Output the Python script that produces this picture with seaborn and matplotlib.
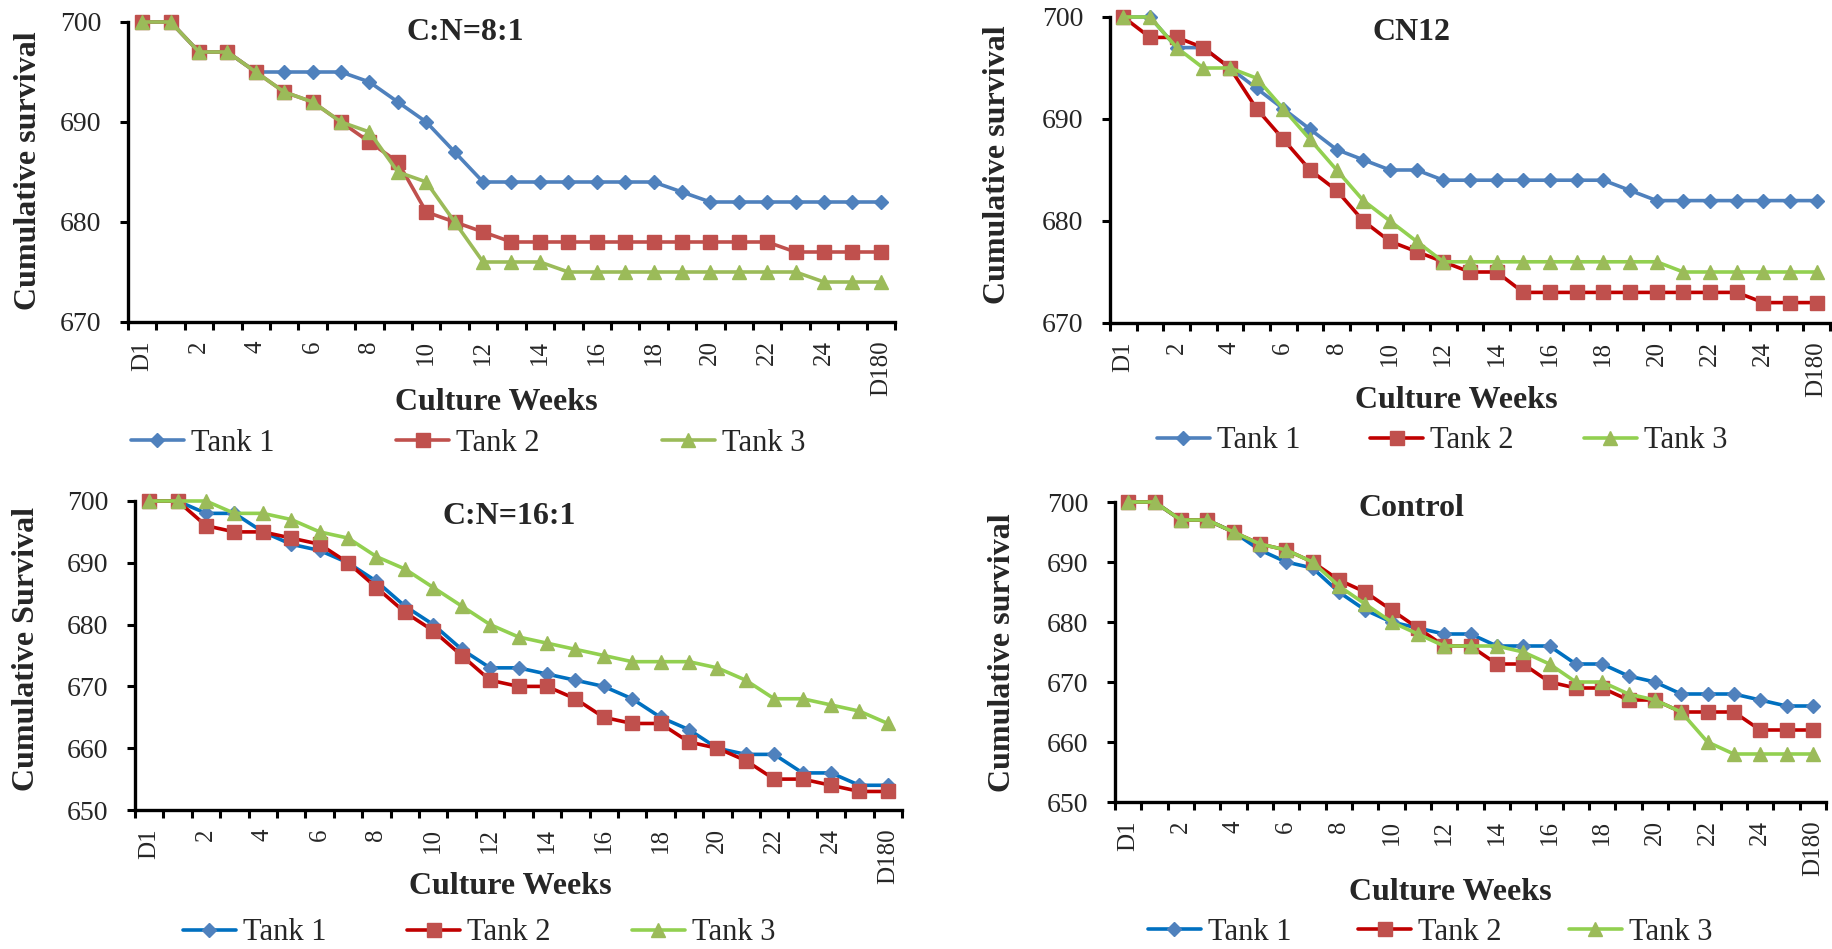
import matplotlib
matplotlib.use("Agg")
import matplotlib.pyplot as plt
from matplotlib.lines import Line2D
import seaborn as sns
import pandas as pd

# Sampling points: start day, culture weeks 1-25, final day
weeks = ["D1", "1", "2", "3", "4", "5", "6", "7", "8", "9", "10", "11", "12", "13",
         "14", "15", "16", "17", "18", "19", "20", "21", "22", "23", "24", "25", "D180"]
shown_labels = ["D1", "2", "4", "6", "8", "10", "12", "14", "16", "18", "20", "22", "24", "D180"]

cn8_tank1 = [700, 700, 697, 697, 695, 695, 695, 695, 694, 692, 690, 687, 684, 684,
             684, 684, 684, 684, 684, 683, 682, 682, 682, 682, 682, 682, 682]
cn8_tank2 = [700, 700, 697, 697, 695, 693, 692, 690, 688, 686, 681, 680, 679, 678,
             678, 678, 678, 678, 678, 678, 678, 678, 678, 677, 677, 677, 677]
cn8_tank3 = [700, 700, 697, 697, 695, 693, 692, 690, 689, 685, 684, 680, 676, 676,
             676, 675, 675, 675, 675, 675, 675, 675, 675, 675, 674, 674, 674]

cn12_tank1 = [700, 700, 697, 697, 695, 693, 691, 689, 687, 686, 685, 685, 684, 684,
              684, 684, 684, 684, 684, 683, 682, 682, 682, 682, 682, 682, 682]
cn12_tank2 = [700, 698, 698, 697, 695, 691, 688, 685, 683, 680, 678, 677, 676, 675,
              675, 673, 673, 673, 673, 673, 673, 673, 673, 673, 672, 672, 672]
cn12_tank3 = [700, 700, 697, 695, 695, 694, 691, 688, 685, 682, 680, 678, 676, 676,
              676, 676, 676, 676, 676, 676, 676, 675, 675, 675, 675, 675, 675]

cn16_tank1 = [700, 700, 698, 698, 695, 693, 692, 690, 687, 683, 680, 676, 673, 673,
              672, 671, 670, 668, 665, 663, 660, 659, 659, 656, 656, 654, 654]
cn16_tank2 = [700, 700, 696, 695, 695, 694, 693, 690, 686, 682, 679, 675, 671, 670,
              670, 668, 665, 664, 664, 661, 660, 658, 655, 655, 654, 653, 653]
cn16_tank3 = [700, 700, 700, 698, 698, 697, 695, 694, 691, 689, 686, 683, 680, 678,
              677, 676, 675, 674, 674, 674, 673, 671, 668, 668, 667, 666, 664]

ctrl_tank1 = [700, 700, 697, 697, 695, 692, 690, 689, 685, 682, 680, 679, 678, 678,
              676, 676, 676, 673, 673, 671, 670, 668, 668, 668, 667, 666, 666]
ctrl_tank2 = [700, 700, 697, 697, 695, 693, 692, 690, 687, 685, 682, 679, 676, 676,
              673, 673, 670, 669, 669, 667, 667, 665, 665, 665, 662, 662, 662]
ctrl_tank3 = [700, 700, 697, 697, 695, 693, 692, 690, 686, 683, 680, 678, 676, 676,
              676, 675, 673, 670, 670, 668, 667, 665, 660, 658, 658, 658, 658]

series_names = ["Tank 1", "Tank 2", "Tank 3"]

sns.set_theme(style="white")
plt.rcParams["font.family"] = ["Liberation Serif", "DejaVu Serif"]

W, H = 1832, 949
fig = plt.figure(figsize=(W / 100, H / 100), dpi=100)


def fx(px):
    return px / W


def fy(py):
    return 1 - py / H


marker_face = ["#4F81BD", "#C0504D", "#9BBB59"]
markers = ["D", "s", "^"]
marker_sizes = [6.8, 10, 10.2]
LW = 2.6

panels = [
    dict(title="C:N=8:1", data=[cn8_tank1, cn8_tank2, cn8_tank3],
         box=(128, 22, 895, 322), ylim=(670, 700), ylabel="Cumulative survival",
         line_colors=["#4F81BD", "#C0504D", "#9BBB59"],
         title_xy=(465, 33), ylabel_xy=(29, 171), xlabel_xy=(496, 403),
         legend_xy=(468, 443), colspace=4.0),
    dict(title="CN12", data=[cn12_tank1, cn12_tank2, cn12_tank3],
         box=(1110, 17, 1830, 323), ylim=(670, 700), ylabel="Cumulative survival",
         line_colors=["#4F81BD", "#C00000", "#92D050"],
         title_xy=(1411, 33), ylabel_xy=(998, 165), xlabel_xy=(1456, 400),
         legend_xy=(1442, 441), colspace=2.3),
    dict(title="C:N=16:1", data=[cn16_tank1, cn16_tank2, cn16_tank3],
         box=(135, 501, 902, 810), ylim=(650, 700), ylabel="Cumulative Survival",
         line_colors=["#0070C0", "#C00000", "#92D050"],
         title_xy=(509, 517), ylabel_xy=(27, 649), xlabel_xy=(510, 887),
         legend_xy=(479, 933), colspace=2.65),
    dict(title="Control", data=[ctrl_tank1, ctrl_tank2, ctrl_tank3],
         box=(1115, 502, 1826, 802), ylim=(650, 700), ylabel="Cumulative survival",
         line_colors=["#0070C0", "#C00000", "#92D050"],
         title_xy=(1411, 508), ylabel_xy=(1002, 653), xlabel_xy=(1450, 892),
         legend_xy=(1430, 932), colspace=2.2),
]

for p in panels:
    l, t, r, b = p["box"]
    ax = fig.add_axes([fx(l), fy(b), fx(r) - fx(l), (b - t) / H])
    ax.set_facecolor("white")
    handles = []
    for i, vals in enumerate(p["data"]):
        df = pd.DataFrame({"pos": range(len(weeks)), "survival": vals})
        sns.lineplot(data=df, x="pos", y="survival", ax=ax, color=p["line_colors"][i],
                     linewidth=LW, marker=markers[i], markersize=marker_sizes[i],
                     markerfacecolor=marker_face[i], markeredgecolor=marker_face[i],
                     markeredgewidth=1, clip_on=False, zorder=3 + i)
        handles.append(Line2D([], [], color=p["line_colors"][i], linewidth=LW,
                              marker=markers[i], markersize=marker_sizes[i],
                              markerfacecolor=marker_face[i],
                              markeredgecolor=marker_face[i]))
    ax.set_xlim(-0.5, len(weeks) - 0.5)
    ax.set_ylim(*p["ylim"])
    ax.set_yticks(range(p["ylim"][0], p["ylim"][1] + 1, 10))
    ax.set_xticks(range(0, len(weeks), 2))
    ax.set_xticklabels(shown_labels, rotation=90, fontsize=18)
    ax.set_xticks([k - 0.5 for k in range(len(weeks) + 1)], minor=True)
    ax.tick_params(axis="x", which="major", length=0, pad=13)
    ax.tick_params(axis="x", which="minor", length=6, width=2.2, direction="out",
                   bottom=True, color="black")
    ax.tick_params(axis="y", which="major", length=6, width=2.2, direction="out",
                   left=True, pad=13, labelsize=20, color="black")
    for lab in ax.get_yticklabels():
        lab.set_fontsize(20)
    ax.set_xlabel("")
    ax.set_ylabel("")
    for side in ["top", "right"]:
        ax.spines[side].set_visible(False)
    for side in ["left", "bottom"]:
        ax.spines[side].set_color("black")
        ax.spines[side].set_linewidth(2.4)
    ax.grid(False)

    fig.text(fx(p["title_xy"][0]), fy(p["title_xy"][1]), p["title"], ha="center",
             va="center", fontsize=23, fontweight="bold")
    fig.text(fx(p["ylabel_xy"][0]), fy(p["ylabel_xy"][1]), p["ylabel"], ha="center",
             va="center", rotation=90, fontsize=23, fontweight="bold")
    fig.text(fx(p["xlabel_xy"][0]), fy(p["xlabel_xy"][1]), "Culture Weeks", ha="center",
             va="center", fontsize=23, fontweight="bold")
    fig.legend(handles, series_names, loc="center",
               bbox_to_anchor=(fx(p["legend_xy"][0]), fy(p["legend_xy"][1])),
               ncol=3, frameon=False, fontsize=22, handlelength=1.73,
               handletextpad=0.23, columnspacing=p["colspace"], borderpad=0,
               borderaxespad=0)

fig.savefig("out.png", dpi=100, facecolor="white")
